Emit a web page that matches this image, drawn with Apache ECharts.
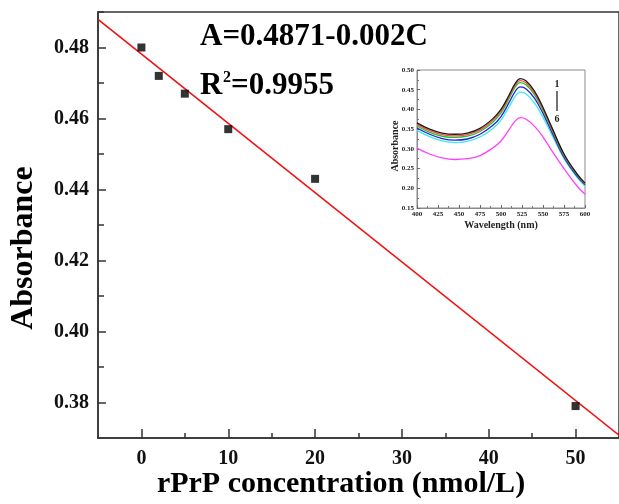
<!DOCTYPE html>
<html>
<head>
<meta charset="utf-8">
<script src="https://cdn.jsdelivr.net/npm/echarts@6/dist/echarts.min.js"></script>
<style>html,body{margin:0;padding:0;background:#fff;}#c{width:619px;height:504px;}</style>
</head>
<body>
<div id="c"></div>
<script>
// ---- main chart data ----
var concentrations = [0, 2, 5, 10, 20, 50];
var absorbance = [0.480, 0.472, 0.467, 0.457, 0.443, 0.379];
var fitC = [-5, 55];
var fitA = [0.4879, 0.3708];
var xMajorTicks = [0, 10, 20, 30, 40, 50];
var xMinorTicks = [5, 15, 25, 35, 45, 55];
var yMajorTicks = [0.38, 0.40, 0.42, 0.44, 0.46, 0.48];
var yMinorTicks = [0.39, 0.41, 0.43, 0.45, 0.47, 0.49];

// ---- inset data ----
var wavelengths = [400, 415, 430, 445, 460, 475, 490, 500, 510, 517, 523, 530, 540, 550, 560, 575, 590, 600];
var spec1 = [0.366, 0.350, 0.340, 0.337, 0.340, 0.352, 0.376, 0.400, 0.438, 0.466, 0.478, 0.472, 0.446, 0.405, 0.357, 0.287, 0.238, 0.213];
var spec2 = [0.362, 0.346, 0.336, 0.333, 0.336, 0.348, 0.372, 0.396, 0.434, 0.462, 0.473, 0.467, 0.441, 0.401, 0.354, 0.285, 0.237, 0.212];
var spec3 = [0.358, 0.342, 0.332, 0.329, 0.332, 0.344, 0.367, 0.391, 0.429, 0.457, 0.468, 0.462, 0.437, 0.397, 0.351, 0.283, 0.235, 0.211];
var spec4 = [0.353, 0.337, 0.326, 0.322, 0.325, 0.337, 0.359, 0.382, 0.419, 0.446, 0.457, 0.452, 0.428, 0.390, 0.345, 0.279, 0.232, 0.209];
var spec5 = [0.347, 0.331, 0.320, 0.316, 0.319, 0.330, 0.351, 0.373, 0.408, 0.434, 0.444, 0.439, 0.416, 0.380, 0.338, 0.275, 0.229, 0.206];
var spec6 = [0.302, 0.287, 0.277, 0.273, 0.275, 0.283, 0.302, 0.320, 0.350, 0.371, 0.379, 0.375, 0.357, 0.330, 0.297, 0.250, 0.207, 0.185];
var specColors = ['#1a1a1a', '#ff4a4a', '#22c422', '#2323d8', '#3fe8f5', '#ff40ff'];

var FONT = '"Liberation Serif", "Times New Roman", serif';
var specs = [spec1, spec2, spec3, spec4, spec5, spec6];
function pairs(xs, ys) { return xs.map(function (x, i) { return [x, ys[i]]; }); }

var chart = echarts.init(document.getElementById('c'), null, { renderer: 'canvas' });

var axisCol = '#333';
var mainLabel = { fontFamily: FONT, fontWeight: 'bold', fontSize: 20, color: '#111' };

var option = {
  backgroundColor: '#fff',
  animation: false,
  grid: [
    { left: 98, top: 12, width: 523, height: 426, show: true, borderColor: axisCol, borderWidth: 1.5, backgroundColor: 'transparent' },
    { left: 417, top: 70, width: 168, height: 138, show: true, borderColor: '#8a8a8a', borderWidth: 1, backgroundColor: '#fff' }
  ],
  xAxis: [
    { gridIndex: 0, type: 'value', min: -5, max: 55, position: 'bottom',
      splitLine: { show: false },
      axisLine: { show: true, onZero: false, lineStyle: { color: axisCol, width: 1.5 } },
      axisTick: { show: true, inside: true, length: 9, customValues: xMajorTicks, lineStyle: { color: axisCol, width: 1.5 } },
      axisLabel: Object.assign({ customValues: xMajorTicks, margin: 11 }, mainLabel) },
    { gridIndex: 0, type: 'value', min: -5, max: 55, position: 'bottom',
      splitLine: { show: false },
      axisLine: { show: false, onZero: false },
      axisTick: { show: true, inside: true, length: 5, customValues: xMinorTicks, lineStyle: { color: axisCol, width: 1.5 } },
      axisLabel: { show: false } },
    { gridIndex: 1, type: 'value', min: 400, max: 600, interval: 25,
      splitLine: { show: false },
      axisLine: { show: true, onZero: false, lineStyle: { color: '#8a8a8a', width: 1 } },
      axisTick: { show: true, inside: true, length: 3, lineStyle: { color: '#666' } },
      minorTick: { show: true, splitNumber: 2, length: 2, lineStyle: { color: '#777' } },
      axisLabel: { fontFamily: FONT, fontWeight: 'bold', fontSize: 7, color: '#222', margin: 3 } }
  ],
  yAxis: [
    { gridIndex: 0, type: 'value', min: 0.37, max: 0.49, position: 'left',
      splitLine: { show: false },
      axisLine: { show: true, onZero: false, lineStyle: { color: axisCol, width: 1.5 } },
      axisTick: { show: true, inside: true, length: 8, customValues: yMajorTicks, lineStyle: { color: axisCol, width: 1.5 } },
      axisLabel: Object.assign({ customValues: yMajorTicks, margin: 9, formatter: function (v) { return v.toFixed(2); } }, mainLabel) },
    { gridIndex: 0, type: 'value', min: 0.37, max: 0.49, position: 'left',
      splitLine: { show: false },
      axisLine: { show: false, onZero: false },
      axisTick: { show: true, inside: true, length: 6, customValues: yMinorTicks, lineStyle: { color: axisCol, width: 1.5 } },
      axisLabel: { show: false } },
    { gridIndex: 1, type: 'value', min: 0.15, max: 0.50, interval: 0.05,
      splitLine: { show: false },
      axisLine: { show: true, onZero: false, lineStyle: { color: '#8a8a8a', width: 1 } },
      axisTick: { show: true, inside: true, length: 3, lineStyle: { color: '#666' } },
      minorTick: { show: true, splitNumber: 2, length: 2, lineStyle: { color: '#777' } },
      axisLabel: { fontFamily: FONT, fontWeight: 'bold', fontSize: 7, color: '#222', margin: 3,
        formatter: function (v) { return v.toFixed(2); } } }
  ],
  series: [
    { type: 'line', xAxisIndex: 0, yAxisIndex: 0, data: pairs(fitC, fitA), showSymbol: false,
      lineStyle: { color: '#f01010', width: 1.6 }, z: 2 },
    { type: 'scatter', xAxisIndex: 0, yAxisIndex: 0, data: pairs(concentrations, absorbance),
      symbol: 'rect', symbolSize: 8, itemStyle: { color: '#000' }, z: 3 }
  ].concat(specs.map(function (s, i) {
    return { type: 'line', xAxisIndex: 2, yAxisIndex: 2, data: pairs(wavelengths, s), smooth: 0.4,
      showSymbol: false, lineStyle: { color: specColors[i], width: 1.3 }, z: 10 - i };
  })),
  graphic: [
    { type: 'text', x: 200, y: 37, style: { text: 'A=0.4871-0.002C', font: 'bold 31px ' + FONT, fill: '#000', textVerticalAlign: 'middle' } },
    { type: 'text', x: 200, y: 86, style: { text: 'R', font: 'bold 31px ' + FONT, fill: '#000', textVerticalAlign: 'middle' } },
    { type: 'text', x: 223, y: 78, style: { text: '2', font: 'bold 16px ' + FONT, fill: '#000', textVerticalAlign: 'middle' } },
    { type: 'text', x: 231, y: 86, style: { text: '=0.9955', font: 'bold 31px ' + FONT, fill: '#000', textVerticalAlign: 'middle' } },
    { type: 'text', x: 24, y: 248, rotation: Math.PI / 2, style: { text: 'Absorbance', font: 'bold 32px ' + FONT, fill: '#000', textAlign: 'center', textVerticalAlign: 'middle' } },
    { type: 'text', x: 341, y: 484, style: { text: 'rPrP concentration (nmol/L)', font: 'bold 30px ' + FONT, fill: '#000', textAlign: 'center', textVerticalAlign: 'middle' } },
    { type: 'text', x: 501, y: 225, style: { text: 'Wavelength (nm)', font: 'bold 10px ' + FONT, fill: '#222', textAlign: 'center', textVerticalAlign: 'middle' } },
    { type: 'text', x: 395, y: 146, rotation: Math.PI / 2, style: { text: 'Absorbance', font: 'bold 10px ' + FONT, fill: '#222', textAlign: 'center', textVerticalAlign: 'middle' } },
    { type: 'text', x: 557, y: 84, style: { text: '1', font: 'bold 10px ' + FONT, fill: '#222', textAlign: 'center', textVerticalAlign: 'middle' } },
    { type: 'line', shape: { x1: 557, y1: 91, x2: 557, y2: 111 }, style: { stroke: '#444', lineWidth: 1.5 } },
    { type: 'text', x: 557, y: 119, style: { text: '6', font: 'bold 10px ' + FONT, fill: '#222', textAlign: 'center', textVerticalAlign: 'middle' } }
  ]
};
chart.setOption(option);
</script>
</body>
</html>
